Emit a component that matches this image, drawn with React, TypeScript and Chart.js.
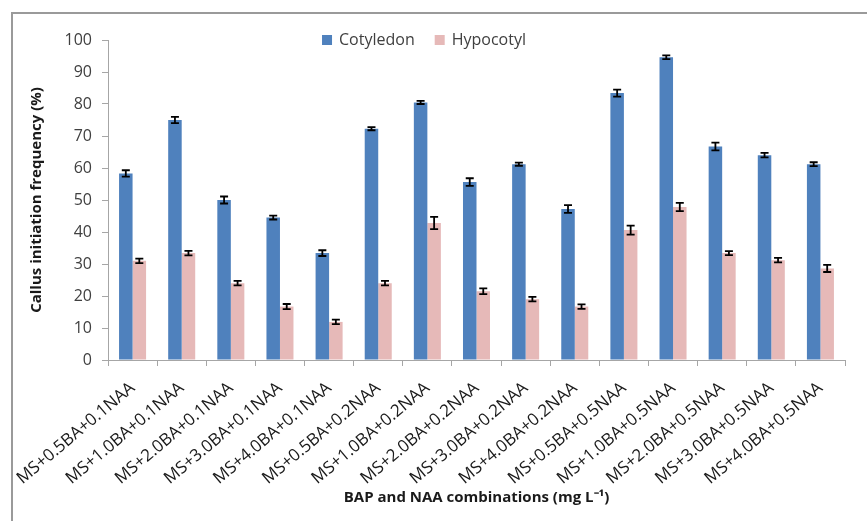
import React, { useEffect, useRef } from "react";
import { Chart, registerables } from "chart.js";

Chart.register(...registerables);

const categories = [
  "MS+0.5BA+0.1NAA", "MS+1.0BA+0.1NAA", "MS+2.0BA+0.1NAA", "MS+3.0BA+0.1NAA", "MS+4.0BA+0.1NAA",
  "MS+0.5BA+0.2NAA", "MS+1.0BA+0.2NAA", "MS+2.0BA+0.2NAA", "MS+3.0BA+0.2NAA", "MS+4.0BA+0.2NAA",
  "MS+0.5BA+0.5NAA", "MS+1.0BA+0.5NAA", "MS+2.0BA+0.5NAA", "MS+3.0BA+0.5NAA", "MS+4.0BA+0.5NAA",
];
const cotyledon = [58.3, 75.0, 50.0, 44.5, 33.4, 72.3, 80.5, 55.6, 61.2, 47.2, 83.4, 94.6, 66.7, 64.0, 61.2];
const cotyledonErr = [1.0, 1.0, 1.1, 0.6, 0.9, 0.5, 0.5, 1.2, 0.5, 1.2, 1.1, 0.6, 1.2, 0.7, 0.6];
const hypocotyl = [31.0, 33.4, 24.0, 16.7, 11.9, 24.0, 42.8, 21.5, 19.0, 16.7, 40.6, 47.8, 33.4, 31.2, 28.6];
const hypocotylErr = [0.7, 0.7, 0.7, 0.8, 0.7, 0.7, 1.9, 0.9, 0.7, 0.7, 1.4, 1.3, 0.6, 0.7, 1.1];
const yTicks = { min: 0, max: 100, step: 10 };

const FONT = "'Open Sans', sans-serif";

const errorBarPlugin = {
  id: "errorBars",
  afterDatasetsDraw(chart: any) {
    const ctx = chart.ctx;
    const yScale = chart.scales.y;
    ctx.save();
    ctx.strokeStyle = "#000";
    ctx.lineWidth = 1.8;
    chart.data.datasets.forEach((ds: any, i: number) => {
      const meta = chart.getDatasetMeta(i);
      meta.data.forEach((bar: any, j: number) => {
        const v = ds.data[j];
        const e = ds.errors[j];
        const x = bar.x;
        const yt = yScale.getPixelForValue(v + e);
        const yb = yScale.getPixelForValue(v - e);
        ctx.beginPath();
        ctx.moveTo(x, yt);
        ctx.lineTo(x, yb);
        ctx.moveTo(x - 4, yt);
        ctx.lineTo(x + 4, yt);
        ctx.moveTo(x - 4, yb);
        ctx.lineTo(x + 4, yb);
        ctx.stroke();
      });
    });
    ctx.restore();
  },
};

const framePlugin = {
  id: "frame",
  beforeDraw(chart: any) {
    const ctx = chart.ctx;
    ctx.save();
    ctx.fillStyle = "#fff";
    ctx.fillRect(0, 0, chart.width, chart.height);
    ctx.strokeStyle = "#9a9a9a";
    ctx.lineWidth = 2;
    ctx.beginPath();
    ctx.moveTo(12, chart.height);
    ctx.lineTo(12, 13);
    ctx.lineTo(chart.width, 13);
    ctx.stroke();
    ctx.restore();
  },
};

const legendPlugin = {
  id: "customLegend",
  afterDraw(chart: any) {
    const ctx = chart.ctx;
    ctx.save();
    ctx.font = `16px ${FONT}`;
    ctx.textBaseline = "middle";
    const items = chart.data.datasets.map((d: any) => ({ label: d.label, color: d.backgroundColor }));
    const box = 10;
    const gapBox = 7;
    const gapItem = 20;
    const widths = items.map((it: any) => box + gapBox + ctx.measureText(it.label).width);
    const total = widths.reduce((a: number, b: number) => a + b, 0) + gapItem * (items.length - 1);
    let x = 424 - total / 2;
    const y = 40;
    items.forEach((it: any, k: number) => {
      ctx.fillStyle = it.color;
      ctx.fillRect(x, y - box / 2, box, box);
      ctx.fillStyle = "#404040";
      ctx.fillText(it.label, x + box + gapBox, y);
      x += widths[k] + gapItem;
    });
    ctx.restore();
  },
};

export default function App() {
  const ref = useRef<HTMLCanvasElement | null>(null);
  useEffect(() => {
    if (!ref.current) return;
    Chart.defaults.font.family = FONT;
    const chart = new Chart(ref.current, {
      type: "bar",
      data: {
        labels: categories,
        datasets: [
          {
            label: "Cotyledon",
            data: cotyledon,
            errors: cotyledonErr,
            backgroundColor: "#4F81BD",
            categoryPercentage: 0.55,
            barPercentage: 1.0,
          } as any,
          {
            label: "Hypocotyl",
            data: hypocotyl,
            errors: hypocotylErr,
            backgroundColor: "#E6B9B8",
            categoryPercentage: 0.55,
            barPercentage: 1.0,
          } as any,
        ],
      },
      options: {
        responsive: false,
        animation: false,
        devicePixelRatio: 1,
        layout: { padding: { top: 40, right: 22, left: 0, bottom: 0 } },
        plugins: { legend: { display: false }, tooltip: { enabled: false } },
        scales: {
          x: {
            offset: true,
            grid: { display: true, drawOnChartArea: false, offset: true, tickLength: 6, color: "#A6A6A6" },
            border: { color: "#A6A6A6" },
            ticks: {
              minRotation: 40,
              maxRotation: 40,
              autoSkip: false,
              font: { size: 17 },
              color: "#1a1a1a",
              padding: 12,
            },
            title: {
              display: true,
              text: "BAP and NAA combinations (mg L⁻¹)",
              font: { size: 15, weight: "bold" },
              color: "#1a1a1a",
              padding: { top: 0, bottom: 14 },
            },
            afterFit: (s: any) => {
              s.height = 161;
            },
          },
          y: {
            min: yTicks.min,
            max: yTicks.max,
            ticks: { stepSize: yTicks.step, font: { size: 16 }, padding: 10, color: "#404040" },
            grid: { drawOnChartArea: false, tickLength: 6, color: "#A6A6A6" },
            border: { color: "#A6A6A6" },
            title: {
              display: true,
              text: "Callus initiation frequency (%)",
              font: { size: 15, weight: "bold" },
              color: "#1a1a1a",
              padding: { top: 28, bottom: 0 },
            },
            afterFit: (s: any) => {
              s.width = 108;
            },
          },
        },
      } as any,
      plugins: [framePlugin, errorBarPlugin, legendPlugin],
    });
    return () => chart.destroy();
  }, []);
  return (
    <div style={{ position: "fixed", left: 0, top: 0, width: 867, height: 521, background: "#fff" }}>
      <canvas ref={ref} width={867} height={521} style={{ display: "block" }} />
    </div>
  );
}
